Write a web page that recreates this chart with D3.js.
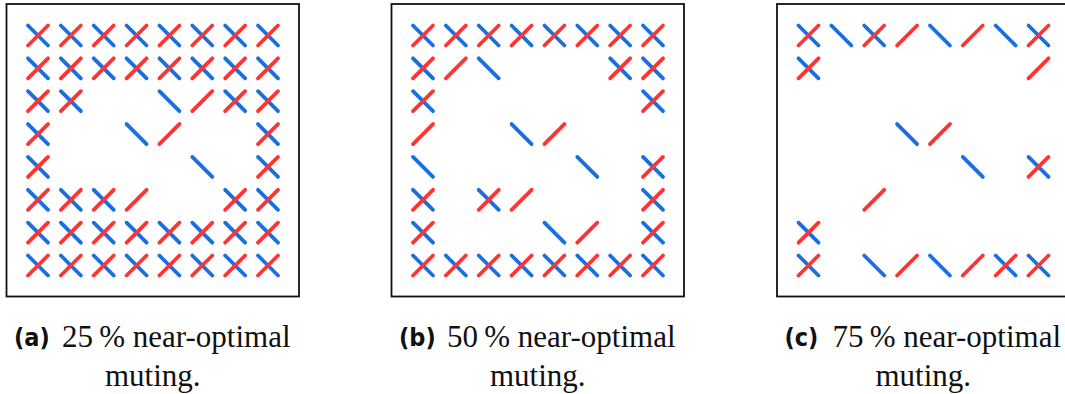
<!DOCTYPE html>
<html>
<head>
<meta charset="utf-8">
<script src="https://cdn.jsdelivr.net/npm/d3@7"></script>
<style>
  body { margin: 0; background: #fff; }
  svg { display: block; }
</style>
</head>
<body>
<div id="chart"></div>
<script>
// panel labels and muting percentages
const panelLabels = ['(a)', '(b)', '(c)'];
const mutingPct = [25, 50, 75];

// 8x8 grids per panel: X = both, b = blue "\" only, r = red "/" only, . = none
const gridA = [
    'XXXXXXXX',
    'XXXXXXXX',
    'XX..brXX',
    'X..br..X',
    'X....b.X',
    'XXXr..XX',
    'XXXXXXXX',
    'XXXXXXXX',
];
const gridB = [
    'XXXXXXXX',
    'Xrb...XX',
    'X......X',
    'r..br...',
    'b....b.X',
    'X.Xr...X',
    'X...br.X',
    'XXXXXXXX',
];
const gridC = [
    'XbXrbrbX',
    'X......r',
    '........',
    '...br...',
    '.....b.X',
    '..r.....',
    'X.......',
    'X.brbrXX',
];
const grids = [gridA, gridB, gridC];

const width = 1065;
const height = 394;
const boxSize = 292.5;
const boxLeft = [6.5, 391.5, 777];
const boxTop = 4;
const half = 10;
const blue = '#1a6fe0';
const red = '#ff3333';

const svg = d3.select('#chart').append('svg').attr('width', width).attr('height', height);

const pos = d3.scalePoint().domain(d3.range(8)).range([31.5, 261.5]);

grids.forEach((grid, p) => {
    const g = svg.append('g').attr('transform', `translate(${boxLeft[p]},${boxTop})`);
    g.append('rect').attr('width', boxSize).attr('height', boxSize)
        .attr('fill', 'none').attr('stroke', '#111').attr('stroke-width', 1.8);

    let cells = [];
    grid.forEach((row, r) => {
        row.split('').forEach((c, col) => cells.push({ r, col, c }));
    });

    // blue "\" first, red "/" on top
    g.append('g').selectAll('line').data(cells.filter(d => d.c === 'X' || d.c === 'b')).join('line')
        .attr('x1', d => pos(d.col) - half).attr('y1', d => pos(d.r) - half)
        .attr('x2', d => pos(d.col) + half).attr('y2', d => pos(d.r) + half)
        .attr('stroke', blue).attr('stroke-width', 3.8).attr('stroke-linecap', 'round');
    g.append('g').selectAll('line').data(cells.filter(d => d.c === 'X' || d.c === 'r')).join('line')
        .attr('x1', d => pos(d.col) - half).attr('y1', d => pos(d.r) + half)
        .attr('x2', d => pos(d.col) + half).attr('y2', d => pos(d.r) - half)
        .attr('stroke', red).attr('stroke-width', 3.8).attr('stroke-linecap', 'round');

    // caption
    const cap = svg.append('g').attr('transform', `translate(${boxLeft[p]},0)`);
    cap.append('text').attr('x', 7.5).attr('y', 346)
        .style('font-family', '"DejaVu Sans Condensed", "DejaVu Sans", sans-serif').style('font-weight', 'bold')
        .style('font-stretch', 'condensed')
        .style('font-size', '25px').attr('fill', '#111').text(panelLabels[p]);
    cap.append('text').attr('x', 55.5).attr('y', 347)
        .style('font-family', '"Liberation Serif", "Times New Roman", serif')
        .style('font-size', '31px').attr('fill', '#111').text(`${mutingPct[p]}\u2009% near-optimal`);
    cap.append('text').attr('x', boxSize / 2).attr('y', 386).attr('text-anchor', 'middle')
        .style('font-family', '"Liberation Serif", "Times New Roman", serif')
        .style('font-size', '31px').attr('fill', '#111').text('muting.');
});
</script>
</body>
</html>
